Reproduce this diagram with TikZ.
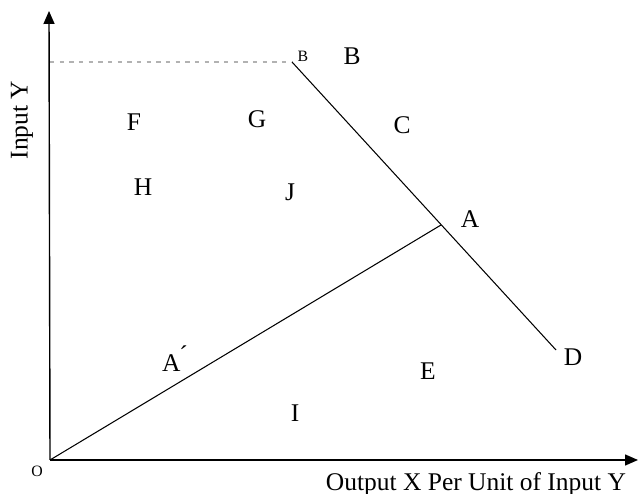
\documentclass[tikz,border=0pt]{standalone}
\usepackage{fontspec}
\setmainfont{Liberation Serif}
\usetikzlibrary{arrows.meta}
\begin{document}
\begin{tikzpicture}[
  lbl/.style={font=\fontsize{14.5}{16}\selectfont, inner sep=0pt},
  small/.style={font=\fontsize{9}{10}\selectfont, inner sep=0pt},
  axis/.style={line width=0.8pt, -{Triangle[length=2.6mm, width=2.2mm]}},
  curve/.style={line width=0.6pt}
]
\useasboundingbox (0,0) rectangle (12.76,9.88);
\coordinate (O) at (1.0,0.68);
\coordinate (ytop) at (0.98,9.66);
\coordinate (xend) at (12.76,0.68);
\coordinate (top) at (5.84,8.64);
\coordinate (ystart) at (1.0,8.64);
\coordinate (pA) at (8.82,5.38);
\coordinate (pD) at (11.12,2.88);
\draw[axis] (O) -- (ytop);
\draw[axis] (O) -- (xend);
\draw[gray!60, line width=0.8pt, dash pattern=on 2.5pt off 3pt] (ystart) -- (top);
\draw[curve] (top) -- (pD);
\draw[curve] (O) -- (pA);
\node[small] (o) at (0.74,0.46) {O};
\node[small] (b0) at (6.06,8.76) {B};
\node[lbl] (b) at (7.04,8.76) {B};
\node[lbl] (f) at (2.68,7.44) {F};
\node[lbl] (g) at (5.14,7.5) {G};
\node[lbl] (c) at (8.04,7.38) {C};
\node[lbl] (h) at (2.86,6.14) {H};
\node[lbl] (j) at (5.8,6.04) {J};
\node[lbl] (a) at (9.4,5.5) {A};
\node[lbl] (a1) at (3.5,2.7) {A\kern-0.05em\raisebox{0.7ex}{´}};
\node[lbl] (e) at (8.56,2.46) {E};
\node[lbl] (i) at (5.9,1.62) {I};
\node[lbl] (d) at (11.46,2.74) {D};
\node[lbl] (xlab) at (9.52,0.2) {Output X Per Unit of Input Y};
\node[lbl, rotate=90] (ylab) at (0.44,7.48) {Input Y};
\end{tikzpicture}
\end{document}
